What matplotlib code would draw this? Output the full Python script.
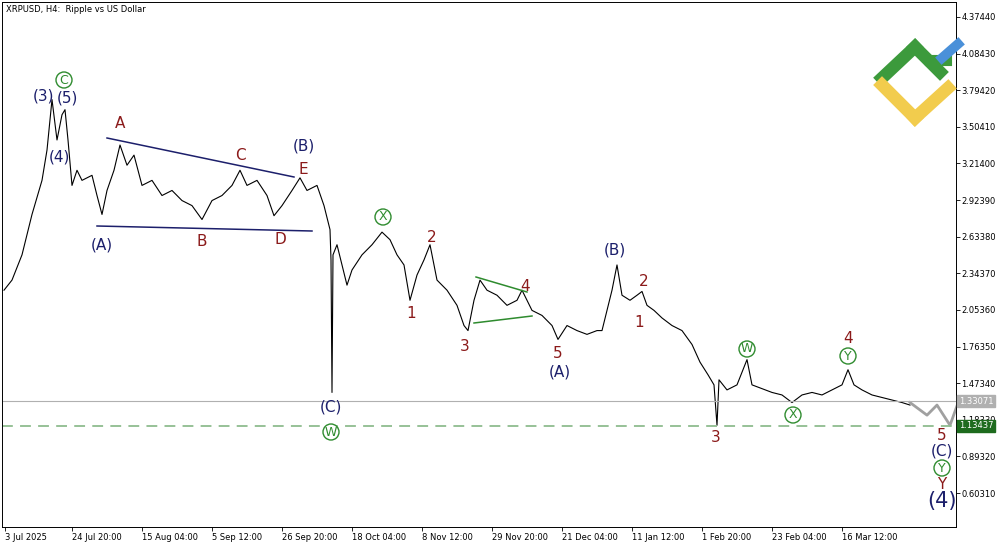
import matplotlib
matplotlib.use("Agg")
import matplotlib.pyplot as plt
from matplotlib.lines import Line2D

# time axis in chart columns (1 unit ~ 1.83 H4 bars)
bar_x = [2,10,20,30,40,45,50,55,60,63,66,70,75,80,90,95,100,105,112,118,125,132,140,150,160,170,180,190,200,
         210,220,230,238,245,255,265,272,280,290,298,305,315,322,328,329,330,331,335,340,345,350,360,370,380,388,
         395,402,408,415,422,428,435,445,455,462,466,472,478,485,495,505,515,520,530,540,550,556,565,575,585,595,
         600,605,610,615,620,628,635,640,645,652,660,670,680,690,698,706,712,715,717,725,735,745,750,760,770,780,
         790,800,810,820,830,840,846,852,860,870,880,890,900,908]
close = [2.21,2.29,2.49,2.81,3.08,3.32,3.72,3.40,3.60,3.64,3.40,3.04,3.16,3.08,3.12,2.96,2.81,3.00,3.16,3.36,3.20,3.28,3.04,3.08,2.96,3.00,2.92,2.88,2.77,
         2.92,2.96,3.04,3.16,3.04,3.08,2.96,2.80,2.88,3.00,3.10,3.00,3.04,2.88,2.69,2.45,1.40,2.49,2.57,2.41,2.25,2.37,2.49,2.57,2.67,2.61,
         2.49,2.41,2.13,2.33,2.45,2.57,2.29,2.21,2.09,1.93,1.89,2.13,2.29,2.21,2.17,2.09,2.13,2.21,2.05,2.01,1.93,1.82,1.93,1.89,1.86,1.89,
         1.89,2.05,2.21,2.41,2.17,2.13,2.17,2.20,2.09,2.05,1.99,1.93,1.89,1.78,1.64,1.54,1.46,1.14,1.50,1.42,1.46,1.66,1.46,1.43,1.40,1.38,
         1.32,1.38,1.40,1.38,1.42,1.46,1.58,1.46,1.42,1.38,1.36,1.34,1.32,1.30]
proj_x = [908,925,935,948,958]
proj_y = [1.32,1.22,1.30,1.14,1.36]

xtick_pos = [3,70,140,210,280,350,420,490,560,630,700,770,840]
xtick_labels = ["3 Jul 2025","24 Jul 20:00","15 Aug 04:00","5 Sep 12:00","26 Sep 20:00","18 Oct 04:00",
                "8 Nov 12:00","29 Nov 20:00","21 Dec 04:00","11 Jan 12:00","1 Feb 20:00","23 Feb 04:00","16 Mar 12:00"]
ytick_vals = [4.37440,4.08430,3.79420,3.50410,3.21400,2.92390,2.63380,2.34370,2.05360,1.76350,1.47340,1.18330,0.89320,0.60310]
price_now = 1.33071
price_target = 1.13437

NAVY = "#1c1f6b"; RED = "#8b1a1a"; GRN = "#2e8b2e"

fig = plt.figure(figsize=(10, 5.45), dpi=100)
ax = fig.add_axes([0.002, 1-527/545, 0.954, 525/545])
XMIN, XMAX = 0, 954
YMIN, YMAX = 0.334, 4.493
ax.set_xlim(XMIN, XMAX); ax.set_ylim(YMIN, YMAX)

def P(x, y):  # pixel -> data
    return x, YMAX - (y-2)/525*(YMAX-YMIN)

ax.plot(bar_x, close, color="black", lw=0.8)
ax.plot(proj_x, proj_y, color="#a0a0a0", lw=2)
ax.axhline(price_now, color="#b0b0b0", lw=0.8)
ax.axhline(price_target, color="#8fbc8f", lw=1.3, ls=(0,(6,4)))

# triangles
for (x1,y1,x2,y2,c) in [(105,138,292,177,NAVY),(95,226,310,231,NAVY),(474,277,525,292,GRN),(472,323,530,316,GRN)]:
    a = P(x1,y1); b = P(x2,y2)
    ax.plot([a[0],b[0]],[a[1],b[1]],color=c,lw=1.1)

def lab(x,y,s,c,fs=11):
    ax.text(*P(x,y), s, color=c, fontsize=fs, ha="center", va="center")
def circ(x,y,s,fs=9):
    ax.text(*P(x,y), s, color=GRN, fontsize=fs, ha="center", va="center",
            bbox=dict(boxstyle="circle,pad=0.12", fc="white", ec=GRN, lw=1))

for (x,y,s) in [(42,96,"(3)"),(65,98,"(5)"),(57,157,"(4)"),(302,146,"(B)"),(100,245,"(A)"),(329,407,"(C)"),
                (558,372,"(A)"),(613,250,"(B)"),(940,451,"(C)")]:
    lab(x,y,s,NAVY)
lab(940,501,"(4)",NAVY,15)
for (x,y,s) in [(118,123,"A"),(238,155,"C"),(301,169,"E"),(200,242,"B"),(278,240,"D"),(430,238,"2"),(409,313,"1"),
                (463,346,"3"),(523,286,"4"),(556,353,"5"),(642,282,"2"),(637,322,"1"),(846,338,"4"),(714,437,"3"),
                (940,436,"5"),(940,484,"Y")]:
    lab(x,y,s,RED)
for (x,y,s) in [(62,80,"C"),(329,432,"W"),(381,217,"X"),(745,349,"W"),(846,356,"Y"),(791,415,"X"),(940,468,"Y")]:
    circ(x,y,s)

ax.text(0.004,0.995,"XRPUSD, H4:  Ripple vs US Dollar",transform=ax.transAxes,fontsize=6,va="top",ha="left")

ax.set_xticks(xtick_pos); ax.set_xticklabels(xtick_labels, fontsize=6, ha="left")
ax.yaxis.tick_right()
ax.set_yticks(ytick_vals); ax.set_yticklabels([f"{v:.5f}" for v in ytick_vals], fontsize=6)
ax.tick_params(length=3, width=0.6, pad=1)
for s in ax.spines.values(): s.set_linewidth(0.7)

for (v,fc,tc) in [(price_now,"#b0b0b0","white"),(price_target,"#1e6b1e","white")]:
    ax.text(1.003, v, f"{v:.5f}", transform=ax.get_yaxis_transform(), fontsize=6, color=tc, va="center", ha="left",
            bbox=dict(boxstyle="square,pad=0.2", fc=fc, ec=fc))

# logo
fig.lines += [
    Line2D([882/1000,915/1000],[1-78/545,1-47/545],color="#3c9a3c",lw=9,transform=fig.transFigure),
    Line2D([915/1000,940/1000],[1-47/545,1-72/545],color="#3c9a3c",lw=9,transform=fig.transFigure),
    Line2D([930/1000,946/1000],[1-60/545,1-60/545],color="#3c9a3c",lw=8,transform=fig.transFigure),
    Line2D([942/1000,958/1000],[1-58/545,1-44/545],color="#4a90d9",lw=7,transform=fig.transFigure),
    Line2D([882/1000,915/1000],[1-85/545,1-118/545],color="#f2cc4d",lw=9,transform=fig.transFigure),
    Line2D([915/1000,948/1000],[1-118/545,1-88/545],color="#f2cc4d",lw=9,transform=fig.transFigure),
]
fig.savefig("out.png", dpi=100)
